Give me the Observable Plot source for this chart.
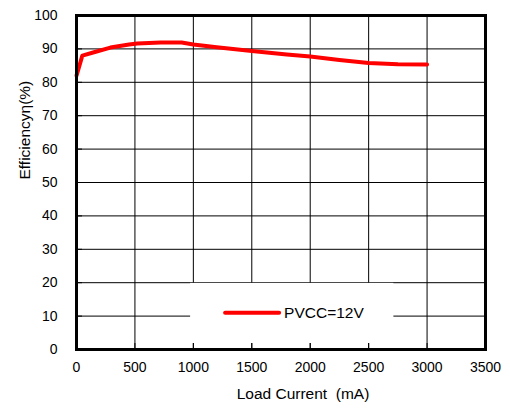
<!DOCTYPE html>
<html>
<head>
<meta charset="utf-8">
<script src="https://cdn.jsdelivr.net/npm/d3@7"></script>
<script src="https://cdn.jsdelivr.net/npm/@observablehq/plot@0.6"></script>
<style>
  body { margin: 0; background: #fff; }
  #chart svg { font-family: "Liberation Sans", Arial, sans-serif; }
</style>
</head>
<body>
<div id="chart"></div>
<script>
// ---- data ----
const current = [0, 50, 150, 290, 450, 520, 720, 900, 1000, 1200, 1500, 1800, 2000, 2250, 2500, 2750, 3000];
const efficiency = [82.0, 88.0, 89.0, 90.4, 91.3, 91.6, 91.9, 91.9, 91.3, 90.5, 89.4, 88.3, 87.7, 86.7, 85.8, 85.4, 85.3];
const xTicks = [0, 500, 1000, 1500, 2000, 2500, 3000, 3500];
const yTicks = [0, 10, 20, 30, 40, 50, 60, 70, 80, 90, 100];
const seriesName = "PVCC=12V";
const xLabel = "Load Current\u00a0 (mA)";
const yLabel = "Efficiency\u03b7(%)";

const W = 510, H = 410;
const margin = {top: 15, right: 25, bottom: 61, left: 76};
const plotW = W - margin.left - margin.right;
const plotH = H - margin.top - margin.bottom;

const rows = current.map((c, i) => ({current: c, efficiency: efficiency[i]}));

function legendMark(index, scales, values, dims) {
  const {marginLeft, marginTop, width, height, marginRight, marginBottom} = dims;
  const pw = width - marginLeft - marginRight;
  const ph = height - marginTop - marginBottom;
  const g = d3.create("svg:g");
  const bx = marginLeft + 0.279 * pw, by = marginTop + 0.802 * ph;
  const bw = 0.497 * pw, bh = 0.18 * ph;
  g.append("rect").attr("x", bx).attr("y", by).attr("width", bw).attr("height", bh).attr("fill", "#fff");
  const ly = by + 30;
  g.append("line").attr("x1", bx + 35).attr("x2", bx + 89).attr("y1", ly).attr("y2", ly)
    .attr("stroke", "#ff0000").attr("stroke-width", 4).attr("stroke-linecap", "round");
  g.append("text").attr("x", bx + 94).attr("y", ly).attr("dy", "0.35em")
    .attr("text-anchor", "start")
    .attr("font-size", 15.5).attr("fill", "#000").text(seriesName);
  return g.node();
}

const fmt = d => String(d);

const chart = Plot.plot({
  width: W,
  height: H,
  marginTop: margin.top,
  marginRight: margin.right,
  marginBottom: margin.bottom,
  marginLeft: margin.left,
  style: {fontSize: "14px", fontFamily: "'Liberation Sans', Arial, sans-serif", color: "#000", background: "#fff"},
  x: {domain: [0, 3500]},
  y: {domain: [0, 100]},
  marks: [
    Plot.ruleY(yTicks.slice(1, -1), {stroke: "#000", strokeWidth: 1}),
    Plot.ruleX(xTicks.slice(1, -1), {stroke: "#000", strokeWidth: 1}),
    legendMark,
    Plot.ruleX(xTicks, {stroke: "#000", strokeWidth: 1, insetTop: plotH - 6}),
    Plot.ruleY(yTicks, {stroke: "#000", strokeWidth: 1, insetRight: plotW - 6}),
    Plot.line(rows, {x: "current", y: "efficiency", stroke: "#ff0000", strokeWidth: 4, strokeLinejoin: "round", strokeLinecap: "round"}),
    Plot.frame({stroke: "#000", strokeWidth: 3}),
    Plot.axisX(xTicks, {tickSize: 0, tickPadding: 13, label: null, fill: "#000", tickFormat: fmt}),
    Plot.axisY(yTicks, {tickSize: 0, tickPadding: 19, label: null, fill: "#000", tickFormat: fmt}),
    Plot.text([xLabel], {text: d => d, frameAnchor: "bottom", dx: 22, dy: 49, fontSize: 15.5, fill: "#000"}),
    Plot.text([yLabel], {text: d => d, frameAnchor: "left", rotate: -90, dx: -51, dy: -3, fontSize: 15.5, fill: "#000"})
  ]
});
document.getElementById("chart").appendChild(chart);
</script>
</body>
</html>
